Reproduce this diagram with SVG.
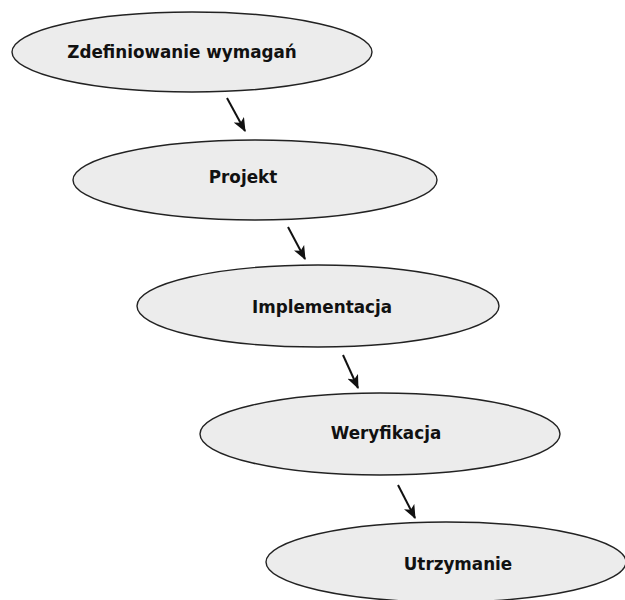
<svg xmlns="http://www.w3.org/2000/svg" width="625" height="600" viewBox="0 0 625 600">
  <style>
    .node ellipse { fill: #ececec; stroke: #222; stroke-width: 1.4; }
    .node text { font-family: "DejaVu Sans", Verdana, sans-serif; font-weight: bold; font-size: 16.8px; fill: #111; text-anchor: middle; }
    .edge { stroke: #111; stroke-width: 2; fill: none; marker-end: url(#head); }
  </style>
  <defs>
    <marker id="head" viewBox="0 0 12 10" refX="11" refY="5" markerWidth="7" markerHeight="6" orient="auto" markerUnits="strokeWidth">
      <path d="M0,0 L12,5 L0,10 L3,5 z" fill="#111"/>
    </marker>
  </defs>
  <rect width="625" height="600" fill="#ffffff"/>

  <g id="n1" class="node">
    <ellipse cx="192" cy="52" rx="180" ry="40"/>
    <text x="182" y="58">Zdefiniowanie wymagań</text>
  </g>
  <g id="n2" class="node">
    <ellipse cx="255" cy="180" rx="182" ry="40"/>
    <text x="243" y="183">Projekt</text>
  </g>
  <g id="n3" class="node">
    <ellipse cx="318" cy="306" rx="181" ry="41"/>
    <text x="322" y="313">Implementacja</text>
  </g>
  <g id="n4" class="node">
    <ellipse cx="380" cy="434" rx="180" ry="41"/>
    <text x="386" y="439">Weryfikacja</text>
  </g>
  <g id="n5" class="node">
    <ellipse cx="446" cy="562" rx="180" ry="40"/>
    <text x="458" y="570">Utrzymanie</text>
  </g>

  <g id="edges">
    <line class="edge" x1="227" y1="98" x2="245" y2="131"/>
    <line class="edge" x1="288" y1="227" x2="305" y2="259"/>
    <line class="edge" x1="343" y1="355" x2="358" y2="388"/>
    <line class="edge" x1="398" y1="485" x2="415" y2="518"/>
  </g>
</svg>
